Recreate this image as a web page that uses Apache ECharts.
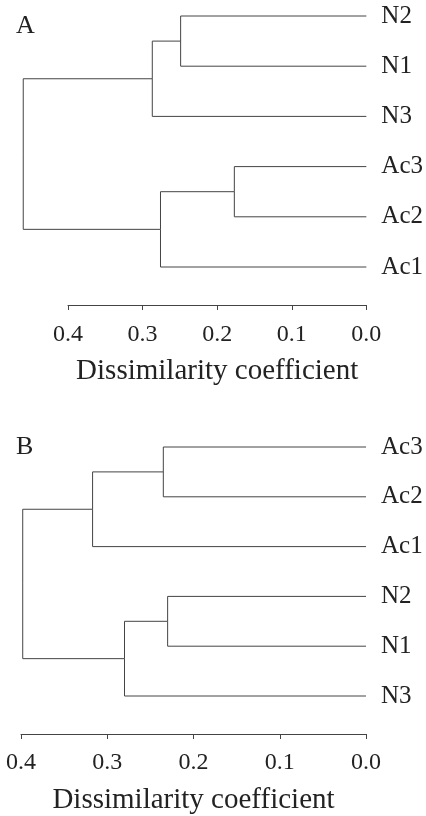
<!DOCTYPE html>
<html>
<head>
<meta charset="utf-8">
<script src="https://cdn.jsdelivr.net/npm/echarts@6/dist/echarts.min.js"></script>
<style>
html,body{margin:0;padding:0;background:#fff;}
#chart{width:426px;height:816px;}
</style>
</head>
<body>
<div id="chart"></div>
<script>
// Panel A
const leavesA = ['N2', 'N1', 'N3', 'Ac3', 'Ac2', 'Ac1'];
// merges: [childA, childB, height]; leaves 0..5, merge nodes numbered from 6
const mergesA = [[0, 1, 0.249], [6, 2, 0.287], [3, 4, 0.177], [8, 5, 0.276], [7, 9, 0.460]];
// Panel B
const leavesB = ['Ac3', 'Ac2', 'Ac1', 'N2', 'N1', 'N3'];
const mergesB = [[0, 1, 0.235], [6, 2, 0.317], [3, 4, 0.230], [8, 5, 0.280], [7, 9, 0.398]];
const ticks = [0, 0.1, 0.2, 0.3, 0.4];
const axisTitle = 'Dissimilarity coefficient';
const panelLabels = ['A', 'B'];

const FONT = 'Liberation Serif';
const LINE = '#444';

function buildSegments(leaves, merges) {
  const n = leaves.length;
  const nodes = leaves.map((_, i) => ({ y: i, h: 0 }));
  const segs = [];
  merges.forEach(m => {
    const a = nodes[m[0]], b = nodes[m[1]];
    const y = (a.y + b.y) / 2;
    segs.push({ coords: [[a.h, a.y], [m[2], a.y], [m[2], y]] });
    segs.push({ coords: [[b.h, b.y], [m[2], b.y], [m[2], y]] });
    nodes.push({ y: y, h: m[2] });
  });
  return segs;
}

const chart = echarts.init(document.getElementById('chart'), null, { renderer: 'canvas' });

function xAxisCfg(idx, labelMargin, nameGap) {
  return {
    type: 'value', gridIndex: idx, inverse: true, min: 0, max: ticks[ticks.length - 1], interval: 0.1,
    position: 'bottom', offset: 38,
    axisLine: { show: true, onZero: false, lineStyle: { color: LINE, width: 1 } },
    axisTick: { show: true, length: 5, lineStyle: { color: LINE, width: 1 } },
    splitLine: { show: false },
    axisLabel: { fontFamily: FONT, fontSize: 24, color: '#222', margin: labelMargin,
      formatter: v => v.toFixed(1) },
    name: axisTitle, nameLocation: 'middle', nameGap: nameGap,
    nameTextStyle: { fontFamily: FONT, fontSize: 29, color: '#222' }
  };
}
function yAxisCfg(idx, leaves) {
  return {
    type: 'value', gridIndex: idx, inverse: true, min: 0, max: leaves.length - 1, interval: 1,
    position: 'right',
    axisLine: { show: false }, axisTick: { show: false }, splitLine: { show: false },
    axisLabel: { fontFamily: FONT, fontSize: 25, color: '#222', margin: 15,
      formatter: v => leaves[Math.round(v)] }
  };
}

chart.setOption({
  backgroundColor: '#fff',
  animation: false,
  title: [
    { text: panelLabels[0], left: 11, top: 8, textStyle: { fontFamily: FONT, fontSize: 26, fontWeight: 'normal', color: '#222' } },
    { text: panelLabels[1], left: 11, top: 429, textStyle: { fontFamily: FONT, fontSize: 26, fontWeight: 'normal', color: '#222' } }
  ],
  grid: [
    { left: 68, right: 59, top: 16, height: 251 },
    { left: 21, right: 60, top: 447, height: 249 }
  ],
  xAxis: [xAxisCfg(0, 18, 52), xAxisCfg(1, 17, 52)],
  yAxis: [yAxisCfg(0, leavesA), yAxisCfg(1, leavesB)],
  series: [
    { type: 'lines', coordinateSystem: 'cartesian2d', xAxisIndex: 0, yAxisIndex: 0, polyline: true, clip: false,
      lineStyle: { color: LINE, width: 1, opacity: 1 }, data: buildSegments(leavesA, mergesA) },
    { type: 'lines', coordinateSystem: 'cartesian2d', xAxisIndex: 1, yAxisIndex: 1, polyline: true, clip: false,
      lineStyle: { color: LINE, width: 1, opacity: 1 }, data: buildSegments(leavesB, mergesB) }
  ]
});
</script>
</body>
</html>
